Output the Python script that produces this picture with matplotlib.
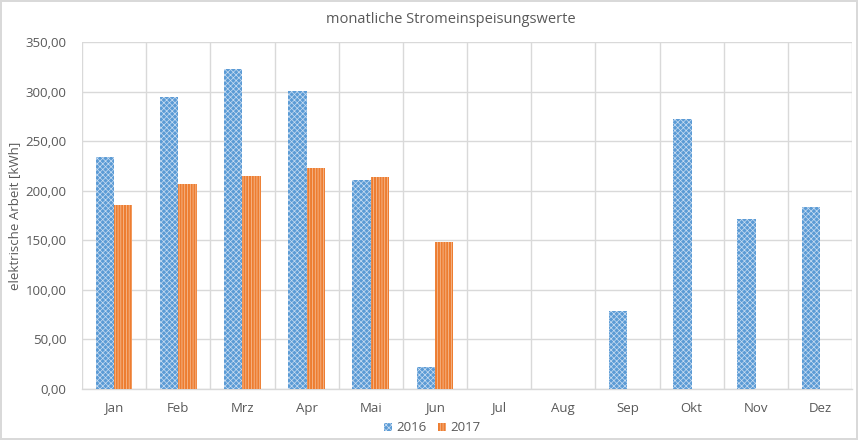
import numpy as np
import matplotlib.pyplot as plt
from matplotlib.ticker import FuncFormatter, FixedLocator

months = ["Jan", "Feb", "Mrz", "Apr", "Mai", "Jun", "Jul", "Aug", "Sep", "Okt", "Nov", "Dez"]
values_2016 = [233.6, 294.7, 322.3, 300.7, 211.0, 21.9, 0, 0, 78.6, 271.9, 171.4, 183.8]
values_2017 = [185.5, 206.3, 214.7, 222.8, 213.6, 148.2, 0, 0, 0, 0, 0, 0]

plt.rcParams["font.family"] = ["Open Sans", "DejaVu Sans"]
plt.rcParams["hatch.linewidth"] = 0.5

text_color = "#595959"
grid_color = "#D9D9D9"

fig = plt.figure(figsize=(8.58, 4.40), dpi=100)
fig.patch.set_edgecolor(grid_color)
fig.patch.set_linewidth(1.5)
ax = fig.add_axes([0.0956, 0.1159, 0.8974, 0.7886])

x = np.arange(len(months))
w = 0.285
ax.bar(x - w / 2, values_2016, w, color="#5B9BD5", edgecolor="#C9DDF2",
       hatch="xxxxxx", linewidth=0, label="2016", zorder=3)
ax.bar(x + w / 2, values_2017, w, color="#ED7D31", edgecolor="#F8C6A2",
       hatch="||||||", linewidth=0, label="2017", zorder=3)

ax.set_xlim(-0.5, len(months) - 0.5)
ax.set_ylim(0, 350)
ax.set_yticks(np.arange(0, 351, 50))
ax.yaxis.set_major_formatter(FuncFormatter(lambda v, p: f"{v:.2f}".replace(".", ",")))
ax.set_xticks(x)
ax.set_xticklabels(months)
ax.xaxis.set_minor_locator(FixedLocator(np.arange(-0.5, len(months), 1.0)))

ax.grid(axis="y", which="major", color=grid_color, linewidth=1, zorder=0)
ax.grid(axis="x", which="minor", color=grid_color, linewidth=1, zorder=0)
ax.tick_params(axis="both", which="both", length=0, colors=text_color, labelsize=9.5)
ax.tick_params(axis="x", pad=9)
ax.tick_params(axis="y", pad=11)

for s in ["top", "right", "left"]:
    ax.spines[s].set_visible(False)
ax.spines["bottom"].set_color(grid_color)
ax.spines["bottom"].set_linewidth(1)

ax.set_ylabel("elektrische Arbeit [kWh]", color=text_color, fontsize=9.5, labelpad=3)
fig.text(0.525, 0.956, "monatliche Stromeinspeisungswerte", ha="center", va="center",
         color=text_color, fontsize=10.5)

ax.legend(loc="center", bbox_to_anchor=(0.455, -0.112), ncol=2, frameon=False,
          fontsize=9.5, handlelength=0.6, handleheight=0.6, handletextpad=0.3,
          columnspacing=0.9, labelcolor=text_color, borderpad=0.1)

plt.savefig("out.png", dpi=100)
